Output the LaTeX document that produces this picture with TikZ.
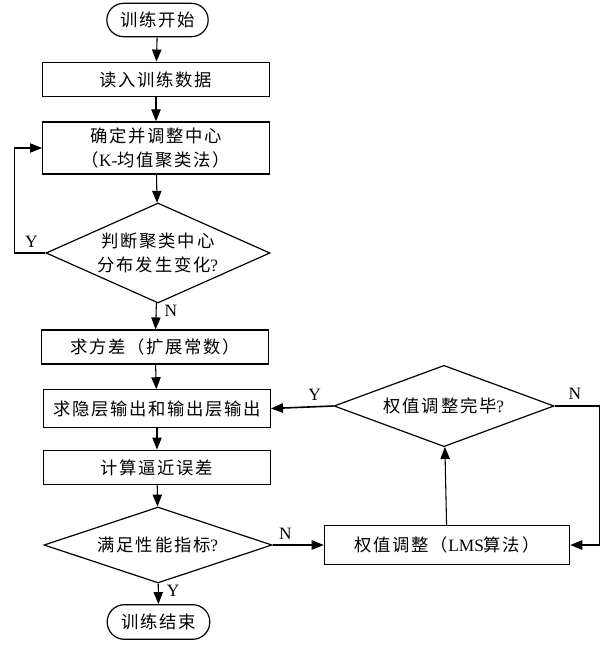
\documentclass[tikz,border=0pt]{standalone}
\usepackage{fontspec}
\setmainfont{Liberation Serif}
\newfontfamily\zh[LetterSpace=10]{Noto Sans CJK SC}
\usetikzlibrary{shapes,arrows.meta,positioning,calc}

\tikzset{
  base/.style={draw, line width=0.9pt, inner sep=0pt, align=center,
    font=\fontsize{13}{18}\selectfont\zh},
  box/.style={base, rectangle, minimum width=170pt},
  term/.style={base, rounded rectangle, minimum width=76pt, minimum height=25pt},
  decide/.style={base, diamond, aspect=2.2},
  arr/.style={line width=0.8pt, -{Triangle[length=9pt,width=7pt]}},
  lbl/.style={font=\fontsize{13}{13}\selectfont\rmfamily, inner sep=0pt}
}

\begin{document}
\begin{tikzpicture}[x=0.75pt, y=-0.75pt]
    \useasboundingbox (0,0) rectangle (608,645);

    % left column
    \node [term] (start) at (157.5,20) {训练开始};
    \node [box, minimum height=26pt] (read) at (156,79.5) {读入训练数据};
    \node [box, minimum height=39pt] (center) at (156,148) {确定并调整中心\\（{\rmfamily K-}均值聚类法）};
    \node [decide, minimum width=168pt, minimum height=75pt] (judge) at (158,253) {判断聚类中心\\分布发生变化{\rmfamily ?}};
    \node [box, minimum height=25.5pt] (var) at (155,347) {求方差（扩展常数）};
    \node [box, minimum height=28pt] (hidden) at (157,408.5) {求隐层输出和输出层输出};
    \node [box, minimum height=26pt] (err) at (157,467.5) {计算逼近误差};
    \node [decide, minimum width=171pt, minimum height=57pt] (perf) at (158,545) {满足性能指标{\rmfamily ?}};
    \node [term, minimum width=77pt, minimum height=26pt] (stop) at (158.5,622) {训练结束};

    % right column
    \node [box, minimum width=184pt, minimum height=29pt] (lms) at (447,545) {权值调整（{\rmfamily LMS}算法）};
    \node [decide, minimum width=165pt, minimum height=61pt] (done) at (444,406) {权值调整完毕{\rmfamily ?}};

    % flow
    \draw [arr] (start) -- (read);
    \draw [arr] (read) -- (center);
    \draw [arr] (center) -- (judge);
    \draw [arr] (judge) -- (var) node[lbl, pos=0.3, right=6pt] {N};
    \draw [arr] (judge.west) -- ++(-31,0) node[lbl, pos=0.45, above=4pt] {Y} |- (center.west);
    \draw [arr] (var) -- (hidden);
    \draw [arr] (hidden) -- (err);
    \draw [arr] (err) -- (perf);
    \draw [arr] (perf) -- (stop) node[lbl, pos=0.35, right=6pt] {Y};
    \draw [arr] (perf.east) -- (lms.west) node[lbl, pos=0.25, above=4pt] {N};
    \draw [arr] (lms) -- (done);
    \draw [arr, line width=1.2pt] (done.west) -- (hidden.east) node[lbl, pos=0.3, above=4pt] {Y};
    \draw [arr, line width=1.1pt] (done.east) -- ++(45,0) node[lbl, pos=0.45, above=4pt] {N} |- (lms.east);
\end{tikzpicture}
\end{document}
